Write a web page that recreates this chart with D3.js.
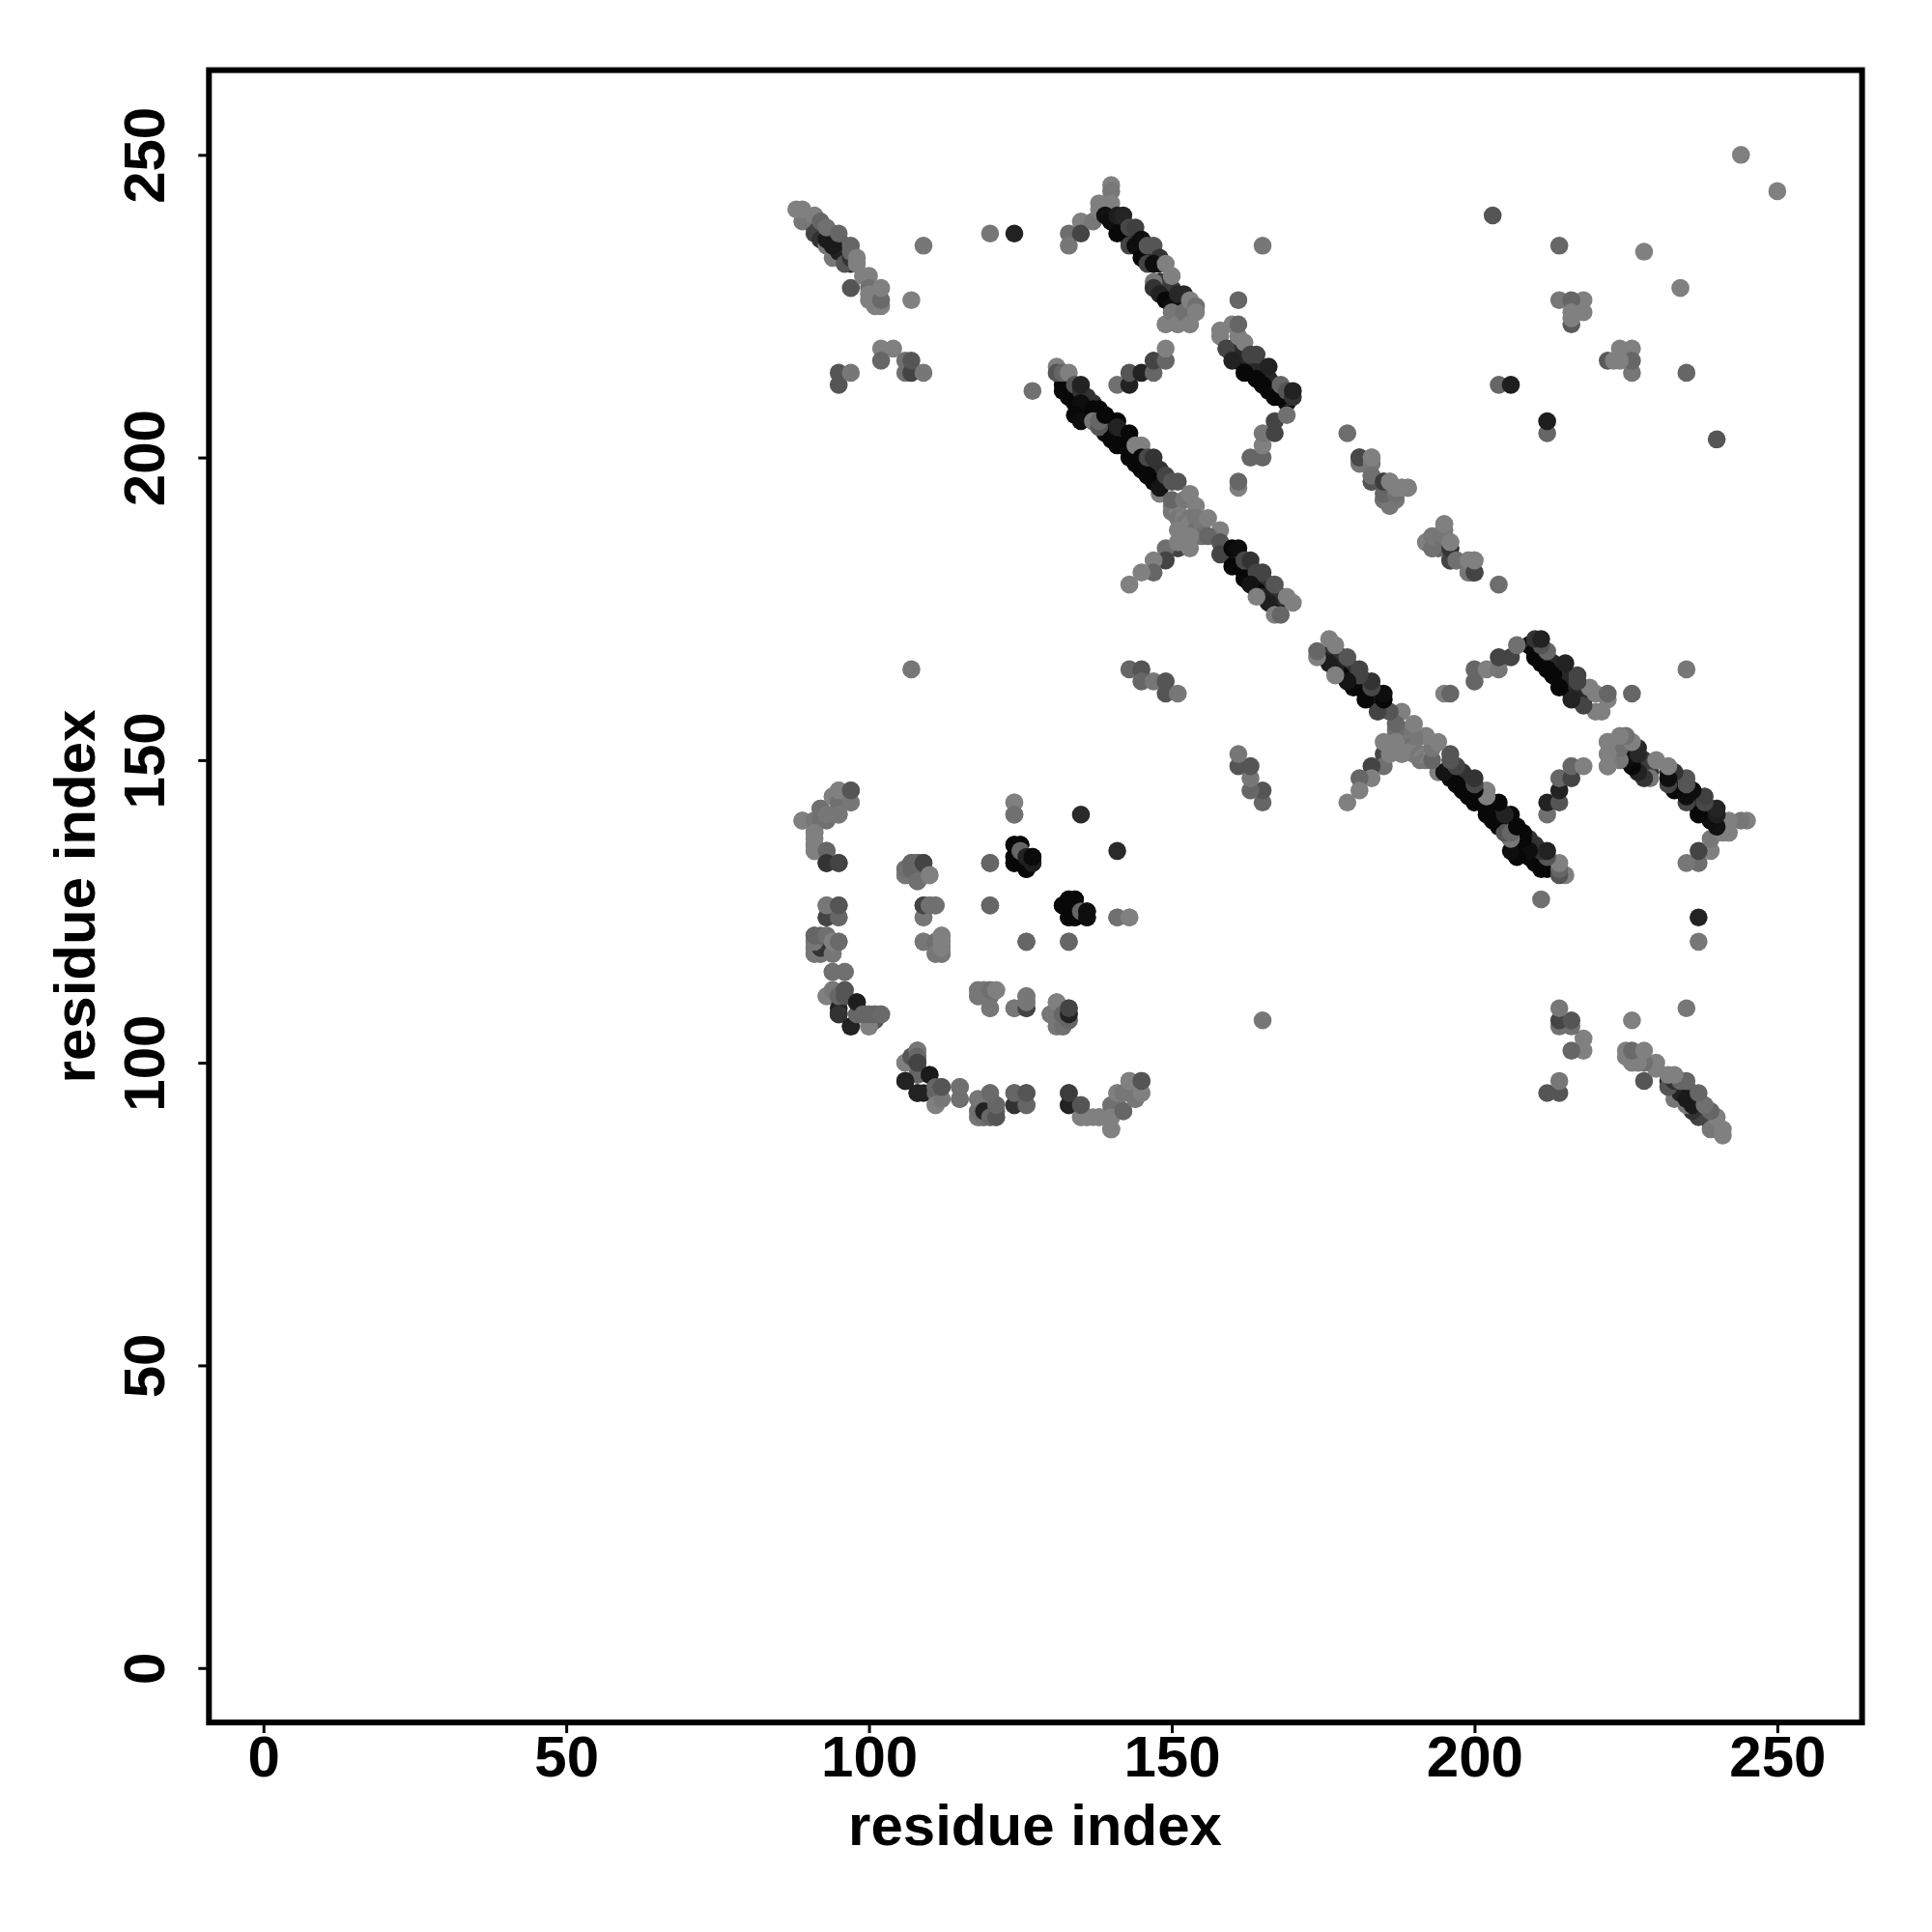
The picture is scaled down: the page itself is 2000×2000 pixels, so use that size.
<!DOCTYPE html>
<html><head><meta charset="utf-8">
<script src="https://cdn.jsdelivr.net/npm/d3@7/dist/d3.min.js"></script>
<style>html,body{margin:0;padding:0;background:#fff}svg{display:block}</style>
</head><body><div id="chart"></div>
<script>
// Each entry: [residue i, residue j, grey level]. The map is symmetric, so each contact is also drawn as (j, i).
const coreA = [[90,239,40],[91,238,40],[92,237,40],[93,236,40],[94,235,40],[95,234,40],[96,233,40],[97,232,40],
 [91,239,60],[92,238,60],[93,237,60],[94,236,60],[95,235,60],[96,234,60],[97,233,60],[94,237,80],[95,236,80],[96,235,80]];
const coreB = [[140,239,10],[141,238,10],[142,237,10],[143,236,10],[144,235,10],[145,234,10],[146,233,10],[147,232,10],
 [141,239,30],[142,238,30],[143,237,30],[144,236,30],[145,235,30],[146,234,30],[147,233,30],[148,232,30],
 [142,239,50],[145,236,50],[146,235,50],[147,234,50],
 [148,228,10],[149,227,10],[150,226,10],[151,225,10],[152,224,10],[148,229,40],[149,228,40],[150,227,40],[151,226,40],[152,225,40],[149,229,60],[150,228,60]];
const coreC = [[132,212,8],[133,211,8],[134,210,8],[135,209,8],[136,208,8],[137,207,8],[139,205,8],[140,204,8],[141,203,8],[142,202,8],[143,201,8],[144,200,8],[145,199,8],[146,198,8],[147,197,8],[148,196,8],
 [134,211,20],[136,209,20],[137,208,20],[139,206,20],[140,205,20],[141,204,20],[142,203,20],[143,202,20],[144,201,20],[145,200,20],[146,199,20],[147,198,20],[148,197,20],[149,196,20],
 [136,210,50],[137,209,50],[139,207,50],[140,206,50],[142,204,50],[143,203,50],[145,201,50],[147,199,50],[148,198,50],
 [133,210,8],[134,209,8],[135,208,8],[136,207,8],[137,206,8],[139,204,8],[141,202,8],[143,200,8],[145,198,8],[147,196,8],
 [160,183,8],[161,182,8],[162,181,8],[163,180,8],[164,179,8],[165,178,8],[166,177,8],[167,176,8],
 [160,184,14],[161,183,14],[162,182,14],[163,181,14],[164,180,14],[165,179,14],[166,178,14],[167,177,14],[168,176,14],
 [161,184,50],[163,182,50],[164,181,50],[165,180,50],[166,179,50],[167,178,50],[168,177,50]];
const coreD = [[160,217,8],[161,216,8],[162,215,8],[163,214,8],[164,213,8],[166,211,8],
 [160,218,10],[161,217,10],[162,216,10],[163,215,10],[164,214,10],[165,213,10],[166,212,10],[167,211,10],[169,209,10],
 [161,218,40],[162,217,40],[163,216,40],[164,215,40],[165,214,40],[166,213,40],[167,212,40],[168,211,40],[169,210,40]];
const strandA = [[89,239,119],[91,237,68],[92,236,51],[93,235,119],[94,233,119],[95,234,34],[93,236,26],[94,235,26],[96,232,85],[97,233,51],
 [88,241,128],[89,241,128],[91,240,128],[92,239,102],[93,238,112],[95,237,102],[97,235,102],[97,234,102],[98,233,128],[98,232,128],[97,228,85],
 [99,230,128],[100,230,128],[100,228,112],[100,227,128],[100,226,128],[101,225,128],[102,225,128],[102,226,106],[102,228,128]];
const strandAPartners = [[109,235,119],[107,226,128],[120,237,119],[124,237,34],[102,218,128],[104,218,128],[102,216,102],[106,216,112],[106,214,112],[107,214,68],[107,216,85],[109,214,119],[95,214,85],[95,212,85],[97,214,119]];
const strandB = [[133,237,110],[133,235,119],[135,239,128],[135,237,68],[137,239,119],[138,242,128],[138,241,128],[140,245,128],[140,244,119],[140,242,128],
 [139,240,17],[140,239,14],[141,237,8],[141,240,30],[142,240,36],[143,238,72],[144,238,64],[143,235,68],[144,235,14],[145,236,14],[145,233,8],[146,232,68],[146,235,85],[147,235,85],[148,233,51],[147,232,14],[149,232,128],[150,230,128],
 [147,229,119],[147,228,51],[148,227,34],[149,226,8],[150,225,14],[151,227,40],[152,227,40],[149,222,128],[150,224,119],[151,222,128],[152,224,112],[153,226,128],[153,222,128],[154,225,112],[154,224,128]];
const strandC = [[131,215,128],[131,214,85],[132,214,102],[133,214,128],[132,211,8],[134,212,85],[135,211,51],[135,212,34],[135,209,14],[134,207,8],[135,206,14],[137,208,8],[138,208,8],
 [137,206,119],[138,205,85],[138,206,102],[139,207,8],[141,206,8],[140,203,8],[142,202,8],[141,205,34],[143,204,8],[144,202,128],[145,202,128],[144,199,8],[145,200,8],[146,197,8],[146,200,72],[147,200,51],[148,194,128],[148,195,20],[149,197,68],[150,196,85],[151,196,85],
 [150,192,119],[150,191,119],[151,191,128],[150,193,102],[151,190,119],[152,193,119],[152,190,128],[152,189,119],[152,188,119],[153,194,128],[154,192,128],[153,190,119],[153,189,128],[154,190,119],[154,188,112],[154,187,112],[155,189,119],[155,187,112],[153,187,128],[156,190,128],[158,188,128],
 [156,187,102],[158,186,85],[158,184,68],[151,185,68],[149,185,112],[151,188,128],[151,186,128],[153,185,128],[149,183,68],[147,183,128],[147,181,102],[145,181,128],[143,179,128],
 [160,182,8],[160,185,8],[161,185,14],[162,183,72],[163,183,51],[162,180,8],[164,181,68],[165,181,68],[164,178,8],[163,179,20],[165,177,34],[167,179,85],[166,176,30],[164,177,128],[167,174,128],[168,174,102],[169,177,128],[170,176,128]];
const strandD = [[158,221,128],[158,220,128],[160,222,128],[159,218,68],[160,216,34],[161,220,128],[161,222,102],[162,219,128],[161,226,102],[162,214,8],[163,217,68],[164,217,68],[164,213,8],[165,212,8],[166,215,34],[167,210,8],[168,210,8],[168,212,102],[169,211,85],[170,210,51],[170,211,34]];
const strandArms = [[141,212,112],[143,212,34],[143,214,85],[145,214,34],[147,214,102],[147,216,68],[149,216,102],[149,218,128],
 [163,200,102],[165,200,102],[165,202,128],[165,204,119],[167,204,68],[167,206,68],[169,207,112],[161,195,128],[161,196,102],[127,211,112],[179,204,110],
 [143,165,102],[145,165,85],[145,163,102],[147,163,119],[149,163,85],[149,161,85],[151,161,119],[107,165,119]];
const strandF = [[181,199,119],[181,200,72],[183,199,119],[183,200,128],[183,196,85],[183,197,112],[185,193,112],[186,192,119],[185,194,102],[185,196,60],[187,194,112],[186,196,128],[187,195,128],[188,195,128],[189,195,128],
 [192,186,128],[193,185,112],[193,187,119],[195,186,112],[195,187,119],[195,188,119],[195,189,128],[196,183,68],[196,185,51],[197,183,112],[196,186,128],[199,181,119],[199,183,128],[200,181,68],[200,183,128]];
const upperScatter = [[203,240,85],[214,235,102],[228,234,128],[214,226,119],[218,226,128],[216,226,102],[216,222,90],[216,224,128],[218,224,128],[216,223,128],[204,212,102],[206,212,30],[244,250,128],[165,235,119],
 [222,153,128],[222,151,128],[222,149,128]];
const ringLeft = [[89,140,128],[91,140,119],[92,140,112],[92,142,112],[93,141,119],[94,144,128],[95,143,112],[95,141,119],[95,145,128],[97,143,119],[97,145,85],
 [91,138,128],[91,137,128],[91,136,128],[91,135,128],[93,135,102],[93,133,51],[95,133,68],
 [93,124,68],[95,124,102],[93,126,119],[95,126,85],
 [91,118,119],[92,118,119],[91,119,119],[92,119,51],[91,120,119],[91,121,102],[92,121,102],[93,121,112],[94,118,119],[94,120,128],[95,120,106],[94,115,112],[96,115,112],
 [93,111,128],[95,109,34],[95,108,51],[94,112,119],[95,111,102],[97,106,34],[96,111,85],[96,112,85],[98,108,102],[98,110,30],[100,106,128],[99,108,102],[100,108,102],[101,108,102],[102,108,106],
 [106,100,128],[106,97,34],[107,101,85],[108,102,119],[108,101,102],[108,100,68],[108,95,34],[110,98,26],[111,93,128],[112,94,119],[111,96,102],[112,96,85],[115,94,112],[115,96,112],
 [118,91,119],[119,91,112],[118,92,112],[118,94,119],[119,92,34],[120,91,102],[121,91,85],[121,93,102],[120,95,106],
 [124,93,51],[126,93,102],[124,95,102],[126,95,85],[133,93,34],[133,95,60],[135,91,128],[136,91,128],[138,91,128],[135,93,85],[140,93,112],[140,91,128],[140,89,128],[142,92,102],[141,95,128],[142,95,119],[144,94,119],[143,97,128],[145,95,128],[145,97,85]];
const ringInner = [[124,143,128],[124,141,112],[135,141,42],[120,133,102],[124,133,8],[124,134,8],[124,136,8],[125,136,8],[125,135,102],[126,132,8],[126,134,34],[127,133,30],[127,134,10],
 [106,131,119],[106,132,112],[107,132,102],[108,130,112],[107,133,102],[108,133,102],[109,133,68],[110,131,128],
 [109,124,119],[109,126,68],[110,126,112],[111,126,112],[120,126,102],
 [133,127,8],[134,127,8],[132,126,8],[133,124,8],[134,124,8],[135,125,102],[136,125,14],[136,124,14],[141,124,112],[143,124,128],
 [126,120,102],[133,120,102],[109,120,119],[111,120,112],[112,121,128],[112,120,128],[111,118,119],[112,118,119],[112,119,128],
 [118,112,119],[118,111,119],[119,112,119],[120,112,112],[121,112,128],[120,109,119],
 [124,109,119],[126,109,68],[126,110,119],[126,111,119],
 [130,108,119],[131,106,119],[132,106,112],[131,110,128],[132,108,102],[133,107,102],[133,108,34],[133,109,68]];

const regions = [coreA, coreB, coreC, coreD, strandA, strandAPartners, strandB, strandC, strandD, strandArms, strandF, upperScatter, ringLeft, ringInner];
const xLimits = [-9, 264];
const yLimits = [-9, 264];
const tickValues = [0, 50, 100, 150, 200, 250];
const axisTitle = "residue index";

const width = 2000, height = 2000;
const x = d3.scaleLinear().domain(xLimits).range([216.3, 1927.6]);
const y = d3.scaleLinear().domain(yLimits).range([1783.1, 72.6]);
const font = '"Liberation Sans", Arial, sans-serif';

const svg = d3.select("#chart").append("svg").attr("width", width).attr("height", height);
svg.append("rect").attr("width", width).attr("height", height).attr("fill", "#fff");

const contacts = [];
regions.forEach(r => r.forEach(([i, j, g]) => contacts.push({px: j, py: i, g})));
regions.forEach(r => r.forEach(([i, j, g]) => contacts.push({px: i, py: j, g})));
svg.append("g").selectAll("circle").data(contacts).join("circle")
  .attr("cx", d => x(d.px)).attr("cy", d => y(d.py)).attr("r", 9.3)
  .attr("fill", d => d3.rgb(d.g, d.g, d.g));

const xAxis = d3.axisBottom(x).tickValues(tickValues).tickSize(11).tickFormat(d3.format("d"));
const gx = svg.append("g").attr("transform", `translate(0,${y.range()[0]})`).call(xAxis);
gx.select(".domain").remove();
gx.selectAll("line").attr("stroke", "#000").attr("stroke-width", 3);
gx.selectAll("text").attr("fill", "#000").style("font", `bold 60px ${font}`).attr("dy", null).attr("y", 56).attr("text-anchor", "middle");

const yAxis = d3.axisLeft(y).tickValues(tickValues).tickSize(11).tickFormat(d3.format("d"));
const gy = svg.append("g").attr("transform", `translate(${x.range()[0]},0)`).call(yAxis);
gy.select(".domain").remove();
gy.selectAll("line").attr("stroke", "#000").attr("stroke-width", 3);
gy.selectAll("text").attr("fill", "#000").style("font", `bold 60px ${font}`).attr("x", null).attr("dy", null)
  .attr("transform", "translate(-46,0) rotate(-90)").attr("text-anchor", "middle").attr("y", 0);

svg.append("rect").attr("x", x.range()[0]).attr("y", y.range()[1])
  .attr("width", x.range()[1] - x.range()[0]).attr("height", y.range()[0] - y.range()[1])
  .attr("fill", "none").attr("stroke", "#000").attr("stroke-width", 6);

svg.append("text").attr("x", 1071.5).attr("y", 1910).attr("text-anchor", "middle")
  .style("font", `bold 60px ${font}`).attr("fill", "#000").text(axisTitle);
svg.append("text").attr("transform", "translate(98,928) rotate(-90)").attr("text-anchor", "middle")
  .style("font", `bold 60px ${font}`).attr("fill", "#000").text(axisTitle);
</script></body></html>
